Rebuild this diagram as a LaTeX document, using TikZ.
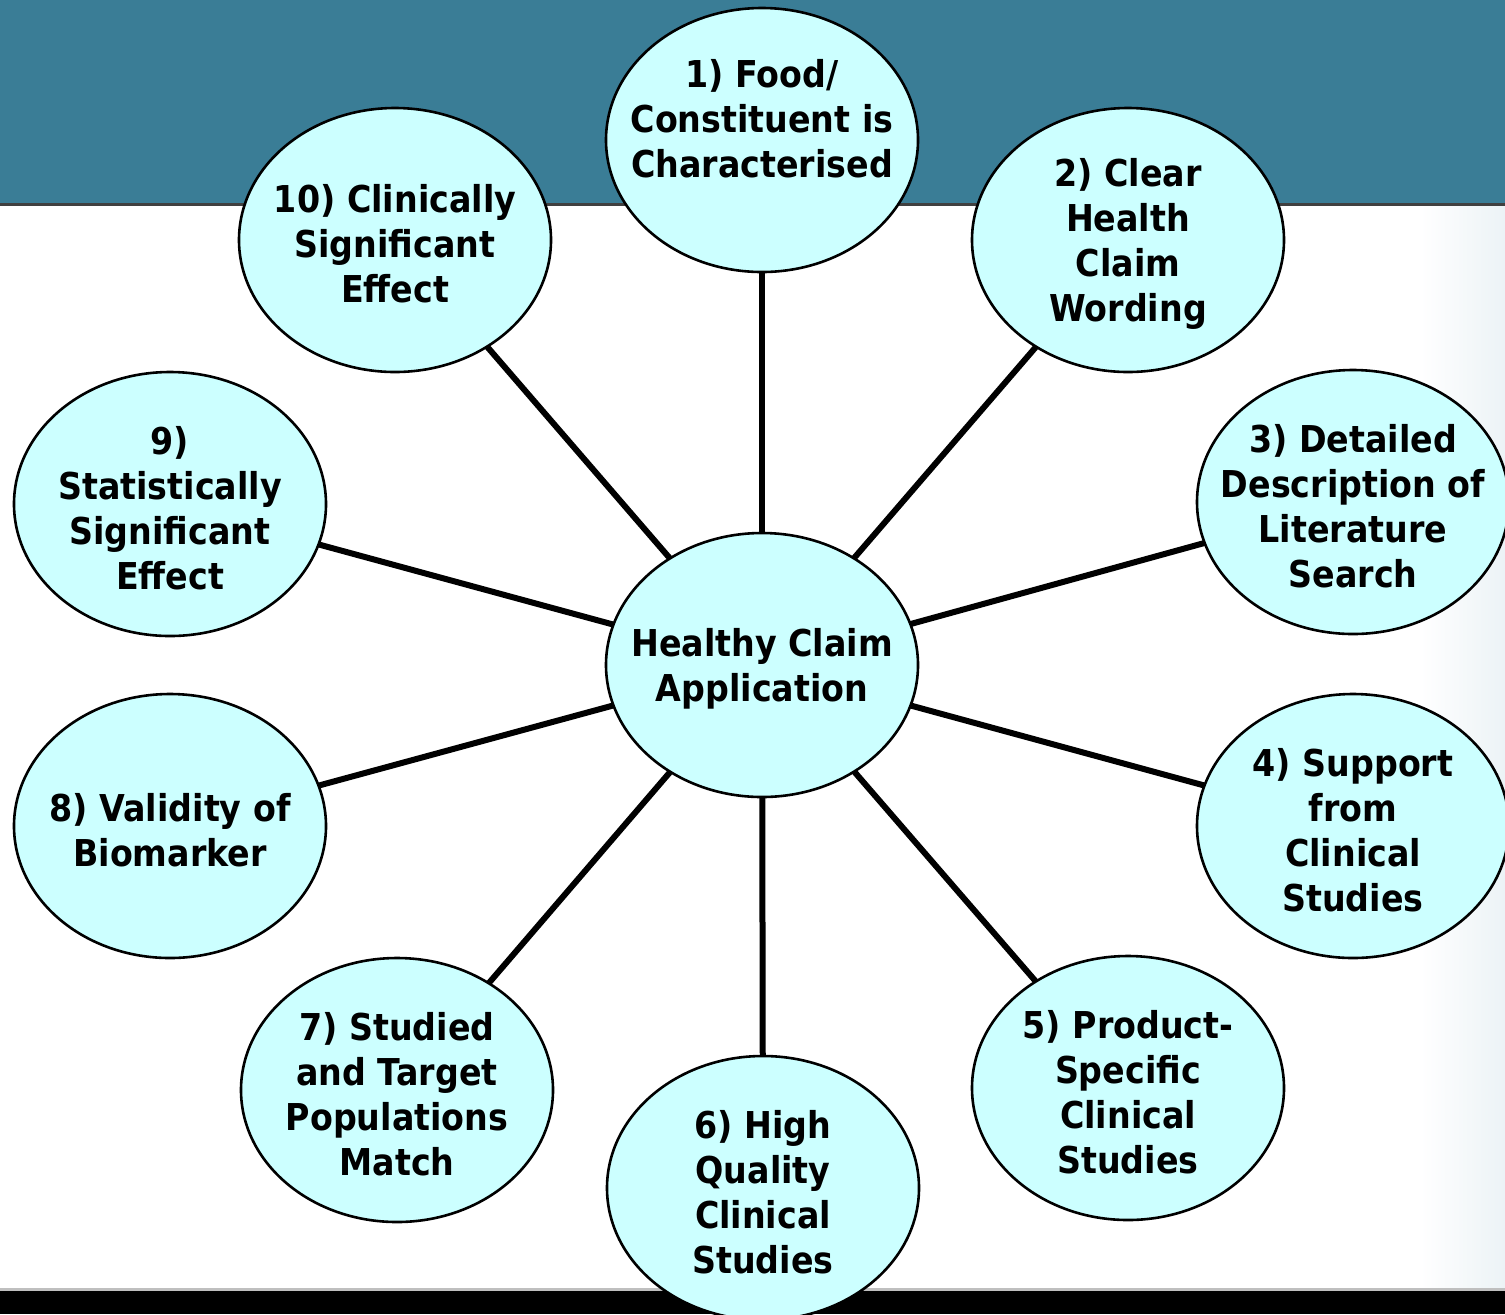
\documentclass[tikz,border=0pt]{standalone}
\usepackage{fontspec}
\setmainfont{DejaVu Sans}[FakeStretch=0.9]
\usepackage{tikz}
\usetikzlibrary{shapes.geometric,backgrounds}

\definecolor{banner}{RGB}{58,125,150}
\definecolor{bubblefill}{RGB}{204,255,255}
\definecolor{sidegray}{RGB}{236,243,246}

\begin{document}
\begin{tikzpicture}[
    x=0.5pt, y=-0.5pt,
    font=\fontsize{18.5}{22.5}\selectfont\bfseries,
    bubble/.style={draw, ellipse, fill=bubblefill, line width=1.3pt, minimum width=156pt, minimum height=132pt, inner sep=0pt},
    txt/.style={align=center, inner sep=0pt, yshift=-2pt},
    spoke/.style={line width=3pt}
]
\useasboundingbox (0,0) rectangle (1505,1314);

% page furniture
\fill[banner] (0,0) rectangle (1505,204);
\draw[line width=1.5pt, black!75] (0,204.5) -- (1505,204.5);
\shade[left color=white, right color=sidegray] (1420,206) rectangle (1505,1289);
\fill[black!25] (0,1288) rectangle (1505,1291);
\fill[black] (0,1291) rectangle (1505,1314);

\node[bubble, label={[txt]center:Healthy Claim\\Application}] (hub) at (762,665) {};

\node[bubble, label={[txt, yshift=12.5pt]center:1) Food/\\Constituent is\\Characterised}] (n1) at (762,140) {};
\node[bubble, label={[txt]center:2) Clear\\Health\\Claim\\Wording}] (n2) at (1128,240) {};
\node[bubble, label={[txt]center:3) Detailed\\Description of\\Literature\\Search}] (n3) at (1353,502) {};
\node[bubble, label={[txt]center:4) Support\\from\\Clinical\\Studies}] (n4) at (1353,826) {};
\node[bubble, label={[txt]center:5) Product-\\Specific\\Clinical\\Studies}] (n5) at (1128,1088) {};
\node[bubble, label={[txt]center:6) High\\Quality\\Clinical\\Studies}] (n6) at (763,1188) {};
\node[bubble, label={[txt]center:7) Studied\\and Target\\Populations\\Match}] (n7) at (397,1090) {};
\node[bubble, label={[txt]center:8) Validity of\\Biomarker}] (n8) at (170,826) {};
\node[bubble, label={[txt]center:9)\\Statistically\\Significant\\Effect}] (n9) at (170,504) {};
\node[bubble, label={[txt]center:10) Clinically\\Significant\\Effect}] (n10) at (395,240) {};

\begin{scope}[on background layer]
\foreach \i in {1,...,10} \draw[spoke] (hub.center) -- (n\i.center);
\end{scope}
\end{tikzpicture}
\end{document}
